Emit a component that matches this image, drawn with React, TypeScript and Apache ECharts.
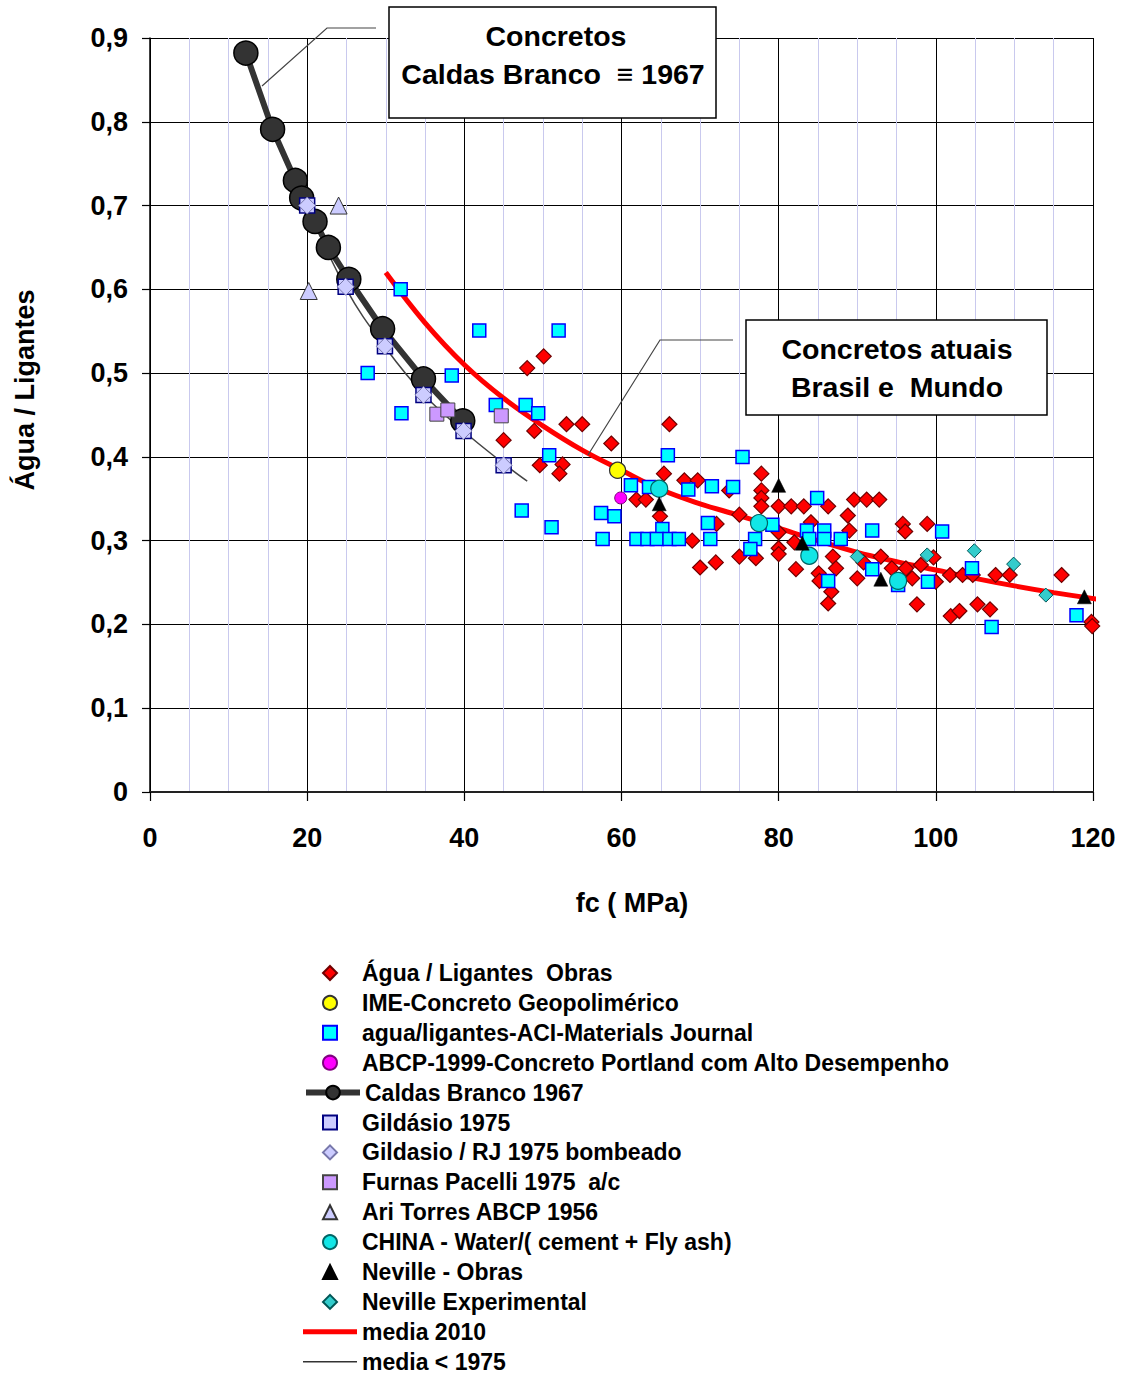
import React, { useEffect, useRef } from 'react';
import * as echarts from 'echarts';

// ---- data ----
const xTicks = [0, 20, 40, 60, 80, 100, 120];
const yTicks = [0, 0.1, 0.2, 0.3, 0.4, 0.5, 0.6, 0.7, 0.8, 0.9];

const aguaObras = [
  [45.0, 0.420], [48.0, 0.506], [50.1, 0.520], [48.9, 0.431], [53.0, 0.439], [55.0, 0.439],
  [58.7, 0.416], [49.6, 0.390], [52.5, 0.391], [52.1, 0.380],
  [66.1, 0.439], [65.4, 0.380], [68.0, 0.372], [69.7, 0.372], [61.9, 0.349], [63.1, 0.349],
  [64.9, 0.329], [73.7, 0.360], [77.8, 0.380], [77.8, 0.360], [77.8, 0.351], [77.8, 0.341],
  [75.0, 0.331], [72.1, 0.320], [69.0, 0.300], [70.0, 0.268], [72.0, 0.274], [75.0, 0.281],
  [77.1, 0.279],
  [80.0, 0.341], [81.6, 0.341], [83.2, 0.341], [86.3, 0.341], [89.6, 0.349], [91.2, 0.349],
  [92.8, 0.349], [80.0, 0.310], [80.0, 0.291], [80.0, 0.284], [82.0, 0.298], [82.2, 0.266],
  [85.1, 0.261], [85.2, 0.252], [86.9, 0.281], [87.3, 0.267], [86.7, 0.239], [86.3, 0.225],
  [88.8, 0.330], [89.0, 0.312], [90.0, 0.255], [90.8, 0.274], [84.1, 0.322], [93.0, 0.281],
  [94.4, 0.267], [96.2, 0.267], [97.0, 0.255], [95.8, 0.320], [96.1, 0.311], [98.9, 0.320],
  [98.1, 0.271], [99.7, 0.280], [100.0, 0.251], [97.6, 0.224],
  [101.8, 0.259], [103.4, 0.259], [104.7, 0.259], [101.9, 0.210], [103.0, 0.216], [105.3, 0.224],
  [106.9, 0.218], [107.6, 0.259], [109.4, 0.259], [116.0, 0.259], [119.8, 0.203], [119.9, 0.198],
];

const imeGeo = [[59.5, 0.384]];

const aciJournal = [
  [31.9, 0.600], [41.9, 0.551], [52.0, 0.551], [27.7, 0.500], [38.4, 0.497], [32.0, 0.452],
  [44.0, 0.462], [47.8, 0.462], [49.4, 0.452], [50.8, 0.402], [47.3, 0.336], [51.1, 0.316],
  [57.4, 0.333], [59.1, 0.329], [57.6, 0.302], [61.2, 0.366], [63.5, 0.364], [65.9, 0.402],
  [68.5, 0.361], [71.5, 0.365], [74.2, 0.364], [75.4, 0.400], [65.2, 0.314], [71.0, 0.321],
  [61.9, 0.302], [63.3, 0.302], [64.5, 0.302], [66.1, 0.302], [67.3, 0.302], [71.3, 0.302],
  [77.0, 0.302], [79.2, 0.319], [76.4, 0.290], [84.9, 0.351], [83.6, 0.312], [85.8, 0.312],
  [83.9, 0.302], [85.8, 0.302], [87.9, 0.302], [91.9, 0.312], [86.3, 0.252], [91.9, 0.266],
  [100.8, 0.311], [99.0, 0.251], [95.2, 0.247], [104.6, 0.267], [117.9, 0.211], [107.1, 0.197],
];

const abcp1999 = [[59.9, 0.351]];

const caldasBranco = [
  [12.2, 0.882], [15.6, 0.791], [18.5, 0.730], [19.3, 0.709], [21.0, 0.681], [22.7, 0.650],
  [25.3, 0.612], [29.6, 0.553], [34.8, 0.493], [39.8, 0.443],
];

const gildasio = [[20.0, 0.700], [24.9, 0.603], [29.9, 0.532], [34.8, 0.474], [39.9, 0.431], [45.0, 0.390]];
const gildasioRJ = [[20.0, 0.700], [24.9, 0.603], [29.9, 0.532], [34.8, 0.474], [39.9, 0.431], [45.0, 0.390]];
const furnasPacelli = [[36.5, 0.451], [37.9, 0.456], [44.7, 0.449]];
const ariTorres = [[24.0, 0.700], [20.2, 0.598]];
const china = [[64.8, 0.362], [77.5, 0.321], [83.9, 0.282], [95.2, 0.252]];
const nevilleObras = [[64.8, 0.344], [80.0, 0.366], [83.0, 0.297], [93.0, 0.254], [118.9, 0.233]];
const nevilleExp = [[90.0, 0.281], [98.9, 0.283], [104.9, 0.288], [109.9, 0.272], [114.0, 0.235]];

const media2010 = [
  [30, 0.620], [35, 0.560], [40, 0.510], [45, 0.470], [50, 0.437], [55, 0.408], [60, 0.384],
  [65, 0.361], [70, 0.344], [75, 0.330], [80, 0.315], [85, 0.300], [90, 0.286], [95, 0.275],
  [100, 0.265], [105, 0.255], [110, 0.246], [115, 0.238], [122, 0.228],
];
const media1975 = [[20.0, 0.700], [25.0, 0.600], [30.0, 0.530], [35.0, 0.473], [40.0, 0.430], [45.0, 0.392], [48.0, 0.371]];

// ---- styling ----
const FONT = '"Liberation Sans", Arial, sans-serif';
const DIAMOND = 'path://M5,0L10,5L5,10L0,5Z';
const SQUARE = 'path://M0,0L10,0L10,10L0,10Z';
const TRIANGLE = 'path://M5,0L10,10L0,10Z';

const N = {
  obras: 'Água / Ligantes  Obras',
  ime: 'IME-Concreto Geopolimérico',
  aci: 'agua/ligantes-ACI-Materials Journal',
  abcp: 'ABCP-1999-Concreto Portland com Alto Desempenho',
  caldas: 'Caldas Branco 1967',
  gild: 'Gildásio 1975',
  gildRJ: 'Gildasio / RJ 1975 bombeado',
  furnas: 'Furnas Pacelli 1975  a/c',
  ari: 'Ari Torres ABCP 1956',
  china: 'CHINA - Water/( cement + Fly ash)',
  nevO: 'Neville - Obras',
  nevE: 'Neville Experimental',
  m2010: 'media 2010',
  m1975: 'media < 1975',
};

const SPACING = 29.9;
const FIRST = 973;
const LEG_FONT = 23;
const ANN_FONT = 28.5;

function buildOption(): any {
  const legendBase = {
    orient: 'vertical',
    itemWidth: 54,
    itemGap: SPACING - LEG_FONT,
    padding: 0,
    selectedMode: false,
    textStyle: { fontFamily: FONT, fontWeight: 'bold', fontSize: LEG_FONT, color: '#000' },
  };
  const topOf = (i: number) => FIRST + i * SPACING - LEG_FONT / 2;

  const sc = (name: string, data: number[][], symbol: string, size: number, itemStyle: any) => ({
    name, type: 'scatter', data, symbol, symbolSize: size, z: 3, itemStyle: { opacity: 1, ...itemStyle },
  });

  return {
    animation: false,
    backgroundColor: '#fff',
    grid: { left: 150, right: 36, top: 38, bottom: 583, containLabel: false },
    xAxis: {
      type: 'value',
      min: xTicks[0],
      max: xTicks[xTicks.length - 1],
      interval: 20,
      axisLine: { show: true, onZero: false, lineStyle: { color: '#222', width: 2 } },
      axisTick: { show: true, inside: false, length: 9, lineStyle: { color: '#000', width: 1.2 } },
      axisLabel: { margin: 32, fontFamily: FONT, fontWeight: 'bold', fontSize: 27, color: '#000' },
      splitLine: { show: true, lineStyle: { color: '#000', width: 1 } },
      minorTick: { show: false, splitNumber: 4 },
      minorSplitLine: { show: true, lineStyle: { color: '#c9c9ee', width: 1 } },
    },
    yAxis: {
      type: 'value',
      min: yTicks[0],
      max: yTicks[yTicks.length - 1],
      interval: 0.1,
      axisLine: { show: true, onZero: false, lineStyle: { color: '#000', width: 1.5 } },
      axisTick: { show: true, inside: false, length: 8, lineStyle: { color: '#000', width: 1.2 } },
      axisLabel: {
        margin: 22,
        fontFamily: FONT,
        fontWeight: 'bold',
        fontSize: 27,
        color: '#000',
        formatter: (v: number) => (v === 0 ? '0' : v.toFixed(1).replace('.', ',')),
      },
      splitLine: { show: true, lineStyle: { color: '#000', width: 1 } },
    },
    legend: [
      { ...legendBase, left: 322, top: topOf(0), itemHeight: 14, data: [N.obras, N.ime, N.aci, N.abcp] },
      {
        ...legendBase, left: 303, top: topOf(4), itemHeight: 17,
        lineStyle: { width: 6, color: '#333' },
        data: [N.caldas],
      },
      { ...legendBase, left: 322, top: topOf(5), itemHeight: 14, data: [N.gild, N.gildRJ, N.furnas, N.ari, N.china, N.nevO, N.nevE] },
      { ...legendBase, left: 303, top: topOf(12), itemHeight: 5, data: [{ name: N.m2010, icon: 'rect', itemStyle: { color: '#ff0000', borderWidth: 0 } }] },
      { ...legendBase, left: 303, top: topOf(13), itemHeight: 1.5, data: [{ name: N.m1975, icon: 'rect', itemStyle: { color: '#333', borderWidth: 0 } }] },
    ],
    series: [
      {
        name: N.m2010, type: 'line', data: media2010, smooth: 0.4, symbol: 'none', clip: false, z: 2,
        lineStyle: { color: '#ff0000', width: 5 }, itemStyle: { color: '#ff0000' },
      },
      {
        name: N.m1975, type: 'line', data: media1975, smooth: 0.4, symbol: 'none', z: 2,
        lineStyle: { color: '#444', width: 1.5 }, itemStyle: { color: '#444' },
      },
      {
        name: N.caldas, type: 'line', data: caldasBranco, symbol: 'circle', symbolSize: 24, showAllSymbol: true, z: 2,
        lineStyle: { color: '#333', width: 6 }, itemStyle: { color: '#333', borderColor: '#000', borderWidth: 1.5 },
      },
      sc(N.obras, aguaObras, DIAMOND, 15, { color: '#ff0000', borderColor: '#700000', borderWidth: 1.2 }),
      sc(N.aci, aciJournal, SQUARE, 13, { color: '#00ffff', borderColor: '#0000ff', borderWidth: 1.5 }),
      sc(N.gild, gildasio, SQUARE, 15, { color: '#ccccff', borderColor: '#000080', borderWidth: 1.5 }),
      sc(N.gildRJ, gildasioRJ, DIAMOND, 17, { color: '#ccccff', borderColor: '#7777aa', borderWidth: 1 }),
      sc(N.furnas, furnasPacelli, SQUARE, 14, { color: '#cc99ff', borderColor: '#444', borderWidth: 1 }),
      sc(N.ari, ariTorres, TRIANGLE, 17, { color: '#ccccff', borderColor: '#333', borderWidth: 1 }),
      sc(N.ime, imeGeo, 'circle', 16, { color: '#ffff00', borderColor: '#333', borderWidth: 1.2 }),
      sc(N.abcp, abcp1999, 'circle', 12, { color: '#ff00ff', borderColor: '#800080', borderWidth: 1 }),
      sc(N.china, china, 'circle', 17, { color: '#11e6e6', borderColor: '#006666', borderWidth: 1.2 }),
      sc(N.nevO, nevilleObras, TRIANGLE, 14, { color: '#000', borderColor: '#000', borderWidth: 0.5 }),
      sc(N.nevE, nevilleExp, DIAMOND, 14, { color: '#33cccc', borderColor: '#005555', borderWidth: 1 }),
    ],
    graphic: [
      {
        type: 'text', x: 25, y: 390, rotation: Math.PI / 2, z: 100,
        style: { text: 'Água / Ligantes', fontFamily: FONT, fontWeight: 'bold', fontSize: 27, fill: '#000', align: 'center', verticalAlign: 'middle' },
      },
      {
        type: 'text', x: 632, y: 903, z: 100,
        style: { text: 'fc ( MPa)', fontFamily: FONT, fontWeight: 'bold', fontSize: 27, fill: '#000', align: 'center', verticalAlign: 'middle' },
      },
      {
        type: 'polyline', z: 100, shape: { points: [[376, 28], [327, 28], [262, 86]] },
        style: { stroke: '#444', lineWidth: 1.2, fill: null },
      },
      {
        type: 'polyline', z: 100, shape: { points: [[733, 340], [660, 340], [588, 455]] },
        style: { stroke: '#444', lineWidth: 1.2, fill: null },
      },
      {
        type: 'rect', z: 100, shape: { x: 389, y: 7, width: 327, height: 111 },
        style: { fill: '#fff', stroke: '#000', lineWidth: 1.5 },
      },
      {
        type: 'text', x: 556, y: 36, z: 101,
        style: { text: 'Concretos', fontFamily: FONT, fontWeight: 'bold', fontSize: ANN_FONT, fill: '#000', align: 'center', verticalAlign: 'middle' },
      },
      {
        type: 'text', x: 553, y: 74, z: 101,
        style: { text: 'Caldas Branco  ≡ 1967', fontFamily: FONT, fontWeight: 'bold', fontSize: ANN_FONT, fill: '#000', align: 'center', verticalAlign: 'middle' },
      },
      {
        type: 'rect', z: 100, shape: { x: 746, y: 320, width: 301, height: 95 },
        style: { fill: '#fff', stroke: '#000', lineWidth: 1.5 },
      },
      {
        type: 'text', x: 897, y: 349, z: 101,
        style: { text: 'Concretos atuais', fontFamily: FONT, fontWeight: 'bold', fontSize: ANN_FONT, fill: '#000', align: 'center', verticalAlign: 'middle' },
      },
      {
        type: 'text', x: 897, y: 387, z: 101,
        style: { text: 'Brasil e  Mundo', fontFamily: FONT, fontWeight: 'bold', fontSize: ANN_FONT, fill: '#000', align: 'center', verticalAlign: 'middle' },
      },
    ],
  };
}

export default function App() {
  const ref = useRef<HTMLDivElement>(null);
  useEffect(() => {
    if (!ref.current) return;
    const chart = echarts.init(ref.current, null, { renderer: 'svg' });
    chart.setOption(buildOption());
    return () => chart.dispose();
  }, []);
  return (
    <div
      ref={ref}
      style={{ position: 'absolute', left: 0, top: 0, width: 1129, height: 1375, background: '#fff' }}
    />
  );
}
